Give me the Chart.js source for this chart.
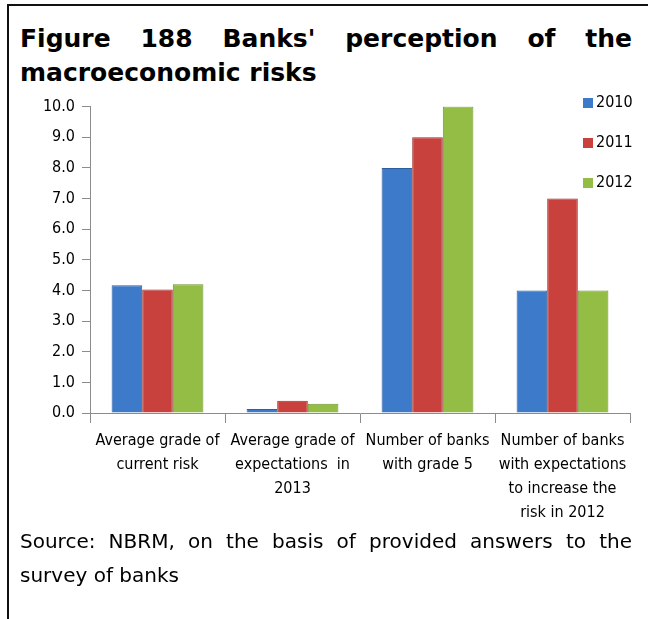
<!DOCTYPE html>
<html>
<head>
<meta charset="utf-8">
<script src="https://cdn.jsdelivr.net/npm/chart.js@4"></script>
<style>
  body { margin: 0; width: 648px; height: 619px; background: #fff; position: relative; overflow: hidden; }
  .frame { position: absolute; left: 7px; top: 4px; right: 0; bottom: 0; border-left: 2px solid #111; border-top: 2px solid #111; }
  .title { position: absolute; left: 20px; right: 16px; top: 22px; margin: 0;
           font: bold 25px "DejaVu Sans", Verdana, sans-serif; line-height: 34px; text-align: justify; color: #000; }
  .chart { position: absolute; left: 0; top: 90px; width: 648px; height: 440px; }
  .source { position: absolute; left: 20px; right: 16px; top: 524px; margin: 0;
            font: 20px "DejaVu Sans", Verdana, sans-serif; line-height: 34px; text-align: justify; color: #000; }
</style>
</head>
<body>
<div class="frame"></div>
<h1 class="title">Figure 188 Banks' perception of the macroeconomic risks</h1>
<div class="chart"><canvas id="c"></canvas></div>
<p class="source">Source: NBRM, on the basis of provided answers to the survey of banks</p>
<script>
const categories = [
    ['Average grade of', 'current risk'],
    ['Average grade of', 'expectations  in', '2013'],
    ['Number of banks', 'with grade 5'],
    ['Number of banks', 'with expectations', 'to increase the', 'risk in 2012']
];
const years = ['2010', '2011', '2012'];
const values2010 = [4.17, 0.13, 8.0, 4.0];
const values2011 = [4.03, 0.4, 9.0, 7.0];
const values2012 = [4.2, 0.3, 10.0, 4.0];
const yTicks = [0, 1, 2, 3, 4, 5, 6, 7, 8, 9, 10];

const colors = ['#3d7ac9', '#c9413d', '#93bd45'];
const borders = ['#2d5f9f', '#9c2f2c', '#6f9430'];
const font = { family: '"DejaVu Sans Condensed", "Liberation Sans Narrow", sans-serif', size: 16 };

// legend drawn inside the plot, top right, like the original
const insideLegend = {
    id: 'insideLegend',
    afterDraw(chart) {
        const ctx = chart.ctx;
        ctx.save();
        ctx.font = font.size + 'px ' + font.family;
        ctx.textBaseline = 'middle';
        chart.data.datasets.forEach((ds, i) => {
            const y = 13 + i * 40;
            ctx.fillStyle = ds.backgroundColor;
            ctx.fillRect(583, y - 5, 10, 10);
            ctx.fillStyle = '#000';
            ctx.fillText(ds.label, 596, y);
        });
        ctx.restore();
    }
};

new Chart(document.getElementById('c'), {
    type: 'bar',
    data: {
        labels: categories,
        datasets: [values2010, values2011, values2012].map((vals, i) => ({
            label: years[i],
            data: vals,
            backgroundColor: colors[i],
            borderColor: borders[i],
            borderWidth: 1,
            categoryPercentage: 0.68,
            barPercentage: 1.0
        }))
    },
    options: {
        responsive: true,
        maintainAspectRatio: false,
        animation: false,
        layout: { padding: { left: 8, right: 18, top: 11, bottom: 0 } },
        plugins: {
            legend: { display: false },
            tooltip: { enabled: false }
        },
        scales: {
            x: {
                grid: { drawOnChartArea: false, tickLength: 10, color: '#8c8c8c', offset: true },
                border: { color: '#8c8c8c' },
                ticks: { color: '#000', font: { ...font, lineHeight: 1.5 }, padding: 6, maxRotation: 0, autoSkip: false },
                afterFit(scale) { scale.height = 117; }
            },
            y: {
                min: 0,
                max: 10,
                afterBuildTicks(scale) { scale.ticks = yTicks.map(v => ({ value: v })); },
                grid: { drawOnChartArea: false, tickLength: 8, color: '#8c8c8c' },
                border: { color: '#8c8c8c' },
                ticks: { color: '#000', font: font, padding: 7, callback: v => v.toFixed(1) },
                afterFit(scale) { scale.width = 82; }
            }
        }
    },
    plugins: [insideLegend]
});
</script>
</body>
</html>
